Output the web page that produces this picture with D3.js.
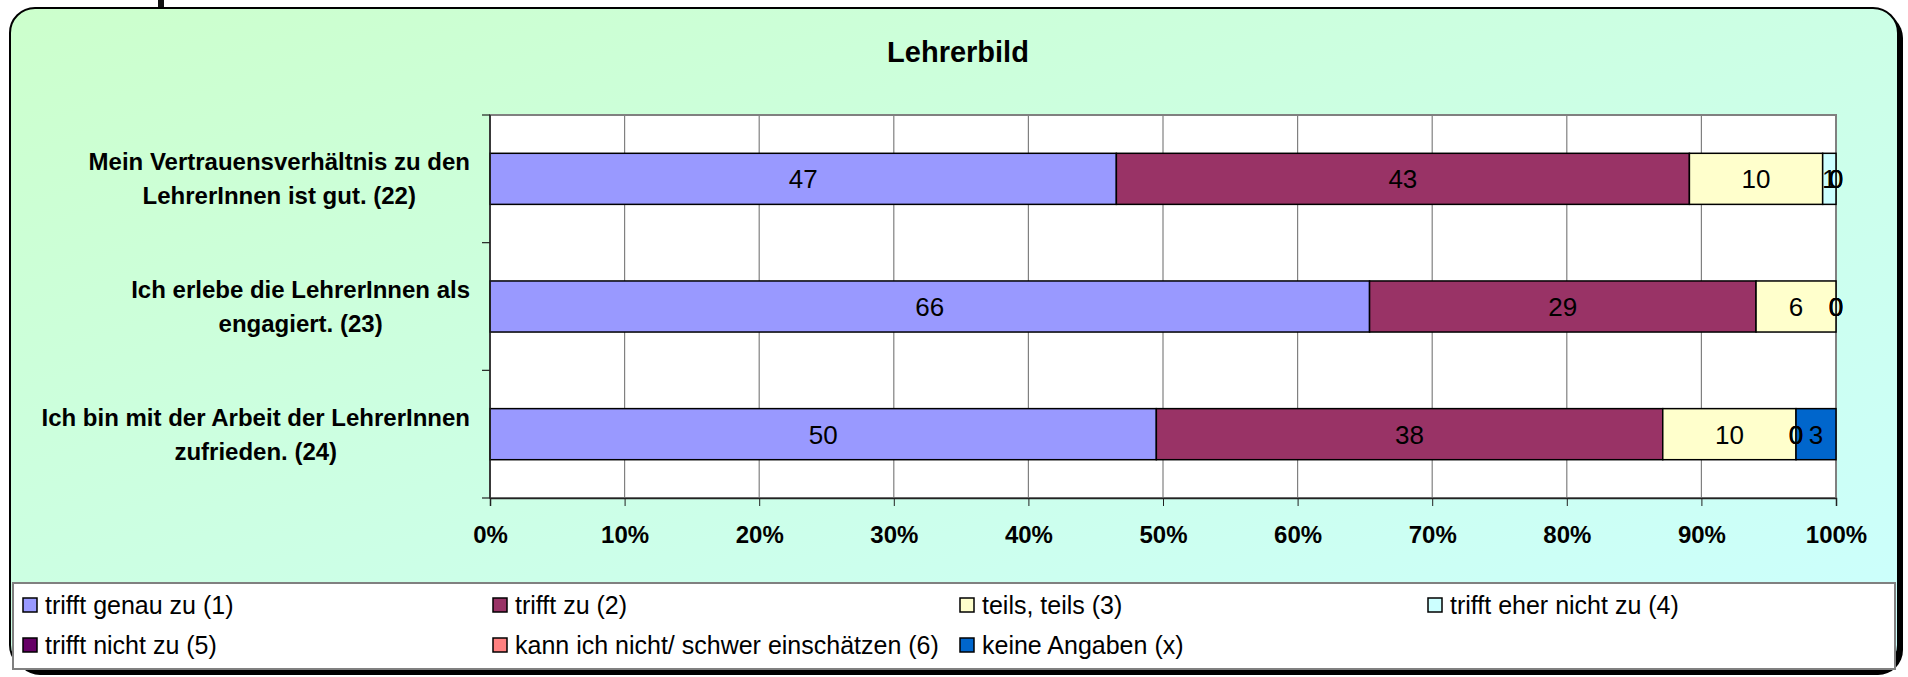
<html>
<head>
<meta charset="utf-8">
<title>Lehrerbild</title>
<script src="https://cdn.jsdelivr.net/npm/d3@7"></script>
<style>
  body { margin: 0; background: #fff; }
  text { font-family: "Liberation Sans", Arial, sans-serif; }
</style>
</head>
<body>
<div id="chart"></div>
<script>
// chart data
var title = "Lehrerbild";
var categories = ["Q22", "Q23", "Q24"];
var categoryLines = [
  ["Mein Vertrauensverhältnis zu den", "LehrerInnen ist gut. (22)"],
  ["Ich erlebe die LehrerInnen als", "engagiert. (23)"],
  ["Ich bin mit der Arbeit der LehrerInnen", "zufrieden. (24)"]
];
var seriesNames = ["trifft genau zu (1)", "trifft zu (2)", "teils, teils (3)", "trifft eher nicht zu (4)",
                   "trifft nicht zu (5)", "kann ich nicht/ schwer einschätzen (6)", "keine Angaben (x)"];
var seriesColors = ["#9999FF", "#993366", "#FFFFCC", "#CCFFFF", "#660066", "#FF8080", "#0066CC"];
var s1 = [47, 66, 50];
var s2 = [43, 29, 38];
var s3 = [10, 6, 10];
var s4 = [1, 0, 0];
var s5 = [0, 0, 0];
var s6 = [0, 0, 0];
var sx = [0, 0, 3];
var tickValues = [0, 0.1, 0.2, 0.3, 0.4, 0.5, 0.6, 0.7, 0.8, 0.9, 1];

var allSeries = [s1, s2, s3, s4, s5, s6, sx];

var w = 1908, h = 677;
var plot = { left: 490, right: 1836, top: 115, bottom: 498 };

var svg = d3.select("#chart").append("svg")
    .attr("width", w).attr("height", h);

var defs = svg.append("defs");
var grad = defs.append("linearGradient").attr("id", "bg")
    .attr("x1", "0%").attr("y1", "0%").attr("x2", "100%").attr("y2", "100%");
grad.append("stop").attr("offset", "0%").attr("stop-color", "#CCFFCC");
grad.append("stop").attr("offset", "100%").attr("stop-color", "#CCFFFF");

// bit of the element above
svg.append("rect").attr("x", 158).attr("y", 0).attr("width", 6).attr("height", 9).attr("fill", "#111");

// chart frame with shadow
svg.append("rect").attr("x", 15).attr("y", 13).attr("width", 1888).attr("height", 662)
    .attr("rx", 25).attr("fill", "#000");
svg.append("rect").attr("x", 10).attr("y", 8).attr("width", 1888).attr("height", 662)
    .attr("rx", 25).attr("fill", "url(#bg)").attr("stroke", "#000").attr("stroke-width", 2);

svg.append("text").attr("x", 958).attr("y", 62).attr("text-anchor", "middle")
    .attr("font-size", 29).attr("font-weight", "bold").text(title);

// scales
var x = d3.scaleLinear().domain([0, 1]).range([plot.left, plot.right]);
var y = d3.scaleBand().domain(categories).range([plot.top, plot.bottom]).padding(0);

svg.append("rect").attr("x", plot.left).attr("y", plot.top)
    .attr("width", plot.right - plot.left).attr("height", plot.bottom - plot.top)
    .attr("fill", "#fff").attr("stroke", "#808080").attr("stroke-width", 2);

// grid
svg.append("g").selectAll("line").data(tickValues).enter().append("line")
    .attr("x1", function(d) { return x(d); }).attr("x2", function(d) { return x(d); })
    .attr("y1", plot.top).attr("y2", plot.bottom)
    .attr("stroke", "#808080").attr("stroke-width", 1.2);

// stacked data
var rows = categories.map(function(c, i) {
  var r = { cat: c };
  seriesNames.forEach(function(s, j) { r[s] = allSeries[j][i]; });
  return r;
});
var stacked = d3.stack().keys(seriesNames).offset(d3.stackOffsetExpand)(rows);

var barH = y.bandwidth() * 0.4;
var barOff = y.bandwidth() * 0.3;

var layers = svg.append("g").selectAll("g").data(stacked).enter().append("g")
    .attr("fill", function(d, i) { return seriesColors[i]; });

layers.selectAll("rect").data(function(d) { return d; }).enter().append("rect")
    .filter(function(d) { return d[1] - d[0] > 0; })
    .attr("x", function(d) { return x(d[0]); })
    .attr("y", function(d) { return y(d.data.cat) + barOff; })
    .attr("width", function(d) { return x(d[1]) - x(d[0]); })
    .attr("height", barH)
    .attr("stroke", "#000").attr("stroke-width", 1.5);

// data labels
var lab = svg.append("g");
stacked.forEach(function(layer) {
  layer.forEach(function(d) {
    lab.append("text")
      .attr("x", x((d[0] + d[1]) / 2))
      .attr("y", y(d.data.cat) + y.bandwidth() / 2)
      .attr("dy", "0.36em")
      .attr("text-anchor", "middle")
      .attr("font-size", 26)
      .text(d.data[layer.key]);
  });
});

// axes
var xAxis = d3.axisBottom(x).tickValues(tickValues).tickSize(8).tickPadding(20)
    .tickFormat(d3.format(".0%"));
var gx = svg.append("g").attr("transform", "translate(0," + plot.bottom + ")").call(xAxis);
gx.select(".domain").attr("stroke", "#222").attr("stroke-width", 1.5);
gx.selectAll(".tick line").attr("stroke", "#222");
gx.selectAll("text").attr("font-size", 24).attr("font-weight", "bold")
    .attr("font-family", "Liberation Sans, Arial, sans-serif").attr("fill", "#000");

var bounds = [plot.top].concat(categories.map(function(c) { return y(c) + y.bandwidth(); }));
svg.append("line").attr("x1", plot.left).attr("x2", plot.left)
    .attr("y1", plot.top).attr("y2", plot.bottom).attr("stroke", "#222").attr("stroke-width", 1.5);
svg.append("g").selectAll("line").data(bounds).enter().append("line")
    .attr("x1", plot.left - 8).attr("x2", plot.left)
    .attr("y1", function(d) { return d; }).attr("y2", function(d) { return d; })
    .attr("stroke", "#222").attr("stroke-width", 1.2);

// category labels (lines centred on each other, block right aligned)
categories.forEach(function(c, i) {
  var g = svg.append("g");
  var cy = y(c) + y.bandwidth() / 2;
  var texts = categoryLines[i].map(function(line, k) {
    return g.append("text")
      .attr("y", cy + (k - 0.5) * 34)
      .attr("dy", "0.36em")
      .attr("text-anchor", "middle")
      .attr("font-size", 24).attr("font-weight", "bold")
      .text(line);
  });
  var maxW = d3.max(texts, function(t) { return t.node().getComputedTextLength(); });
  texts.forEach(function(t) { t.attr("x", 470 - maxW / 2); });
});

// legend
svg.append("rect").attr("x", 13).attr("y", 583).attr("width", 1882).attr("height", 86)
    .attr("fill", "#fff").attr("stroke", "#808080").attr("stroke-width", 2);
var legX = [23, 493, 960, 1428];
var legY = [605, 645];
var leg = svg.append("g").selectAll("g").data(seriesNames).enter().append("g")
    .attr("transform", function(d, i) {
      return "translate(" + legX[i % 4] + "," + legY[Math.floor(i / 4)] + ")";
    });
leg.append("rect").attr("x", 0).attr("y", -7).attr("width", 14).attr("height", 14)
    .attr("fill", function(d, i) { return seriesColors[i]; })
    .attr("stroke", "#000").attr("stroke-width", 1.5);
leg.append("text").attr("x", 22).attr("dy", "0.36em").attr("font-size", 25)
    .text(function(d) { return d; });
</script>
</body>
</html>
